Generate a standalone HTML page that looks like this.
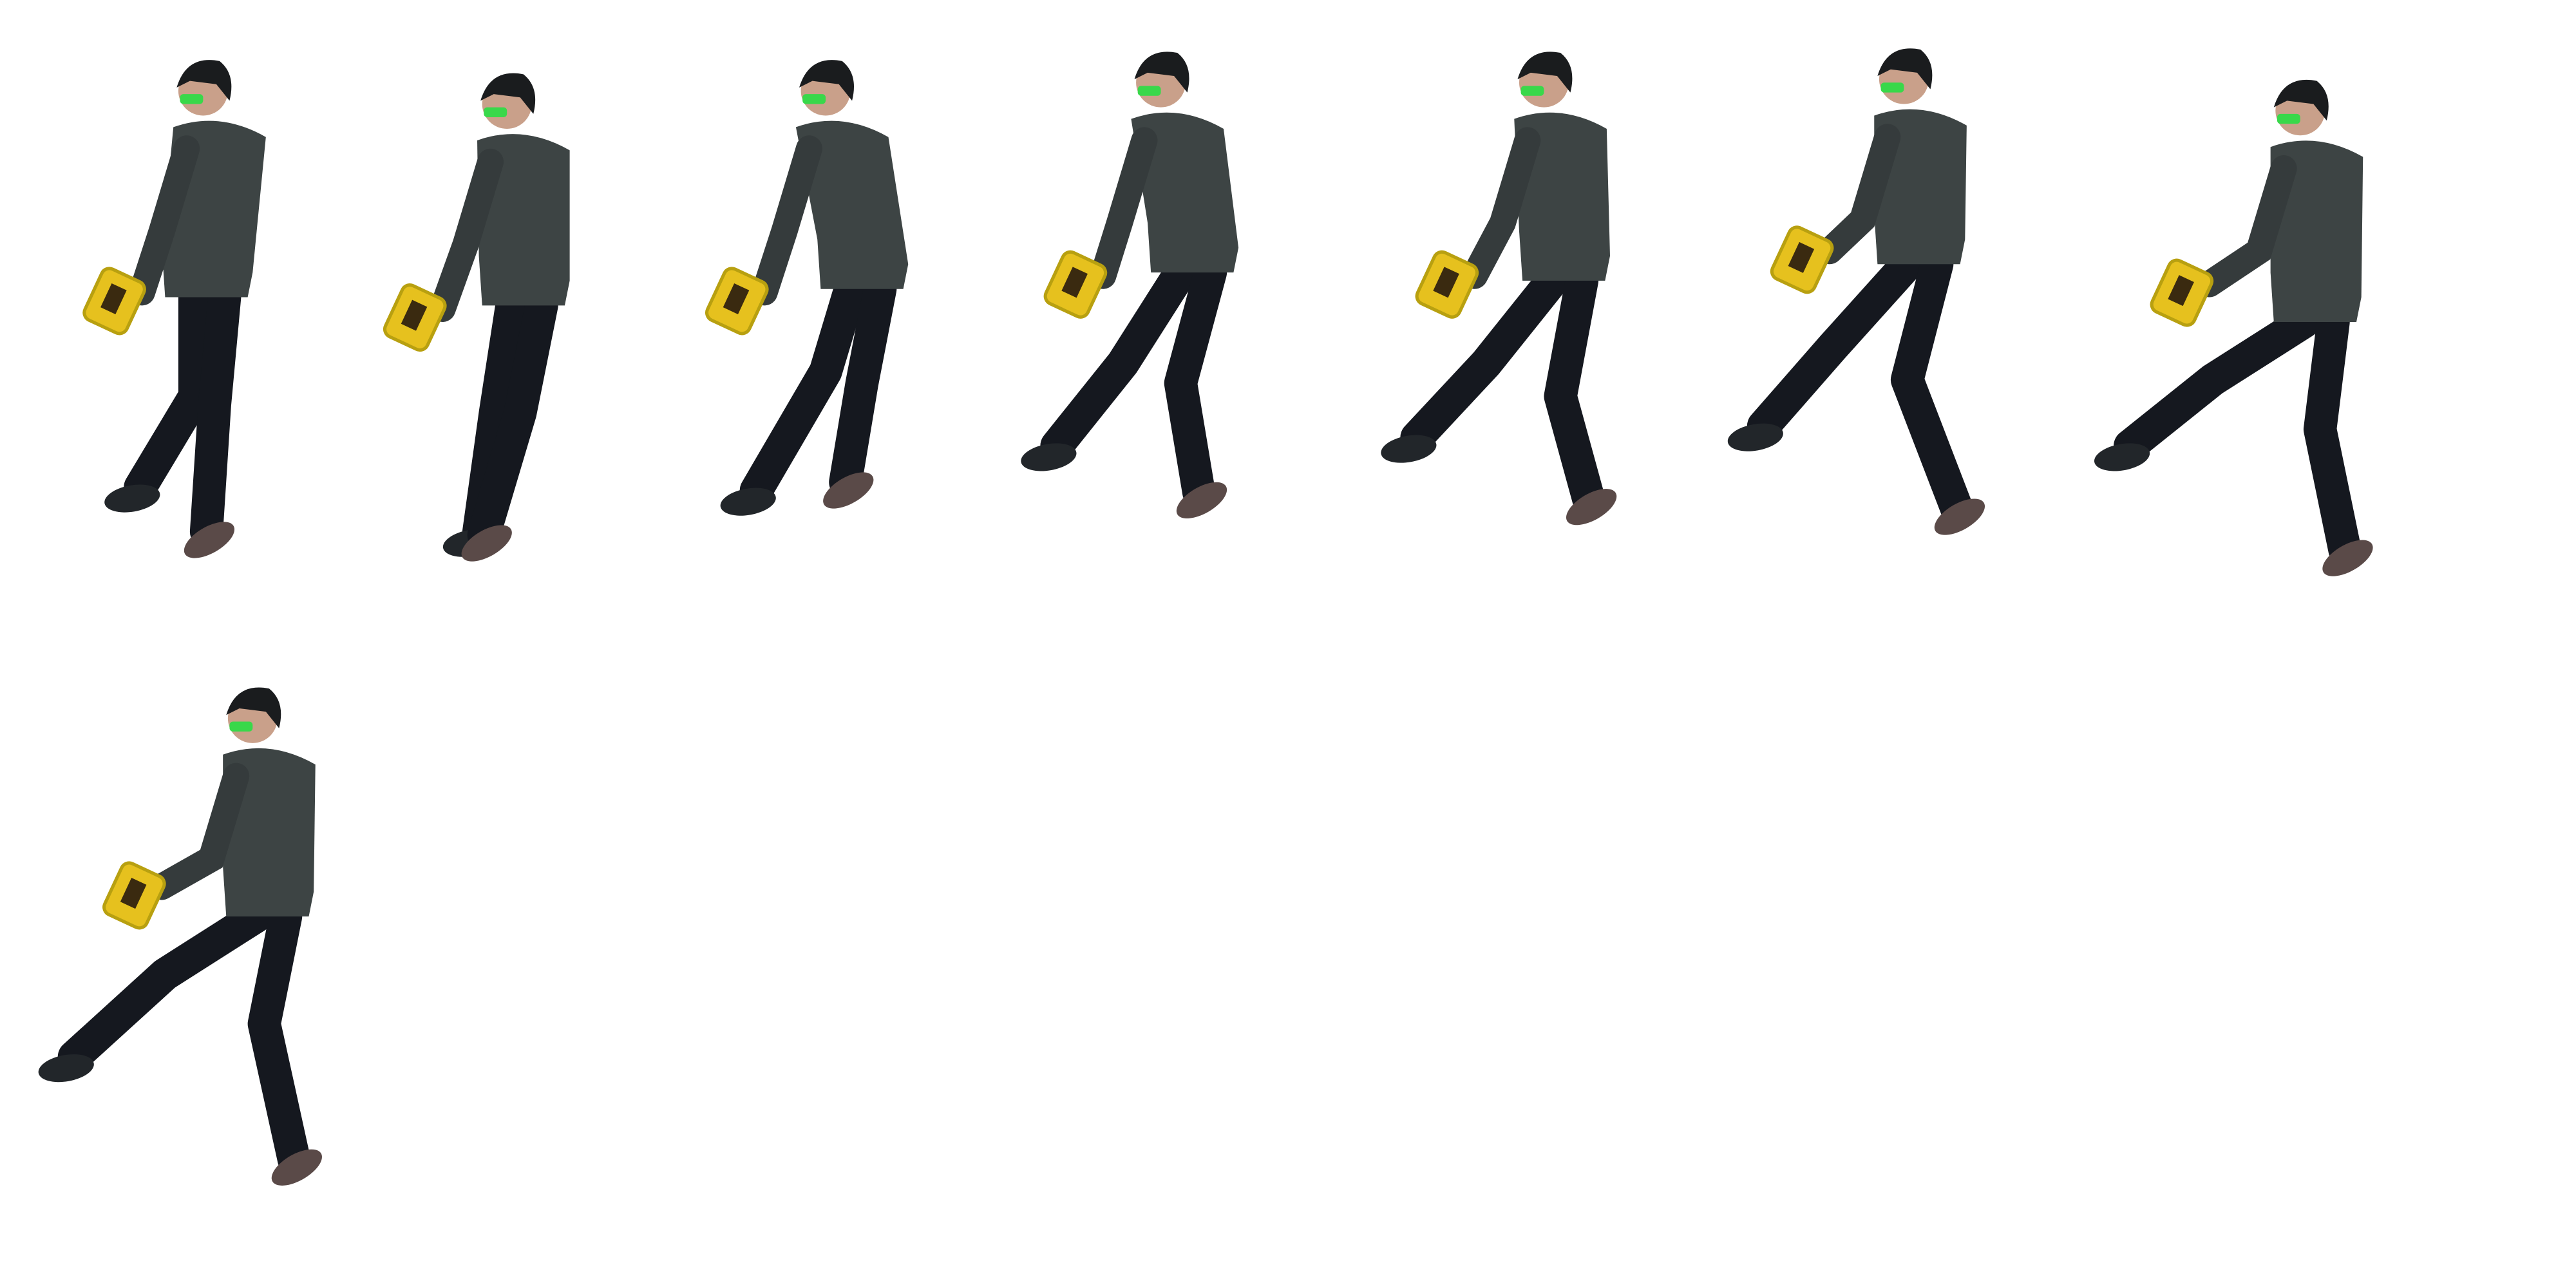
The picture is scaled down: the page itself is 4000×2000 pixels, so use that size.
<!DOCTYPE html>
<html><head><meta charset="utf-8"><style>
html,body{margin:0;padding:0;background:#fff;width:4000px;height:2000px;overflow:hidden}
</style></head><body>
<svg id="sheet" width="4000" height="2000" viewBox="0 0 1560 780" xmlns="http://www.w3.org/2000/svg"></svg>
<script>
// Pose estimates (display coords): head, hip, gun, legA knee/foot, legB knee/foot
const heads=[[123,55],[307,63],[500,55],[703,50],[935,50],[1153,48],[1393,67],[153,435]];
const hips=[[128,180],[320,185],[525,175],[725,165],[950,170],[1165,160],[1405,195],[165,555]];
const guns=[[68,185],[250,195],[445,185],[650,175],[875,175],[1090,160],[1320,180],[80,545]];
const kneesA=[[118,240],[300,250],[500,225],[680,220],[900,220],[1110,210],[1340,230],[100,590]];
const feetA=[[85,295],[290,322],[458,297],[640,270],[858,265],[1068,258],[1290,270],[45,640]];
const kneesB=[[130,245],[315,250],[522,232],[715,232],[945,240],[1155,230],[1405,260],[160,620]];
const feetB=[[125,322],[293,324],[512,292],[726,298],[962,302],[1185,308],[1420,333],[178,702]];
const NS='http://www.w3.org/2000/svg';
const svg=document.getElementById('sheet');
function mk(tag,attrs,parent){const e=document.createElementNS(NS,tag);for(const k in attrs)e.setAttribute(k,attrs[k]);parent.appendChild(e);return e;}
for(let i=0;i<heads.length;i++){
  const g=mk('g',{},svg);
  
  
  const [hx,hy]=heads[i],[px,py]=hips[i],[gx,gy]=guns[i];
  // legs
  [[kneesA[i],feetA[i],px-10],[kneesB[i],feetB[i],px+8]].forEach(([k,f,sx],j)=>{
    const l=mk('polyline',{points:`${sx},${py} ${k[0]},${k[1]} ${f[0]},${f[1]}`,fill:'none',stroke:'#15181f','stroke-width':20,'stroke-linecap':'round','stroke-linejoin':'round'},g);
    
    
    const s=mk('ellipse',{cx:f[0]+(j==0?-5:2),cy:f[1]+6,rx:17,ry:8,fill:j==0?'#22262a':'#5a4a48',transform:`rotate(${j==0?-10:-30} ${f[0]} ${f[1]+6})`},g);
    
    
  });
  // torso
  const t=mk('path',{d:`M${hx-18},${hy+22} Q${hx+10},${hy+12} ${hx+38},${hy+28} L${px+25},${py-15} L${px+22},${py} L${px-28},${py} L${px-30},${py-30} Z`,fill:'#3d4444'},g);
  
  
  // arm
  const a=mk('polyline',{points:`${hx-10},${hy+35} ${hx-25},${hy+85} ${gx+18},${gy-8}`,fill:'none',stroke:'#353b3c','stroke-width':16,'stroke-linecap':'round'},g);
  
  
  // gun
  const gn=mk('rect',{x:gx-14,y:gy-20,width:28,height:34,rx:5,fill:'#e6c11e',stroke:'#b8a010','stroke-width':2,transform:`rotate(25 ${gx} ${gy})`},g);
  
  
  mk('rect',{x:gx-6,y:gy-12,width:10,height:16,fill:'#3a2a10',transform:`rotate(25 ${gx} ${gy})`},g);
  // head
  const h=mk('circle',{cx:hx,cy:hy,r:15,fill:'#c9a08a'},g);
  
  
  mk('path',{d:`M${hx-16},${hy-2} Q${hx-10},${hy-22} ${hx+10},${hy-18} Q${hx+20},${hy-10} ${hx+16},${hy+6} L${hx+8},${hy-4} L${hx-8},${hy-6} Z`,fill:'#1a1c1e'},g);
  mk('rect',{x:hx-14,y:hy+2,width:14,height:6,rx:2,fill:'#39d84a'},g);
}
</script>
</body></html>
